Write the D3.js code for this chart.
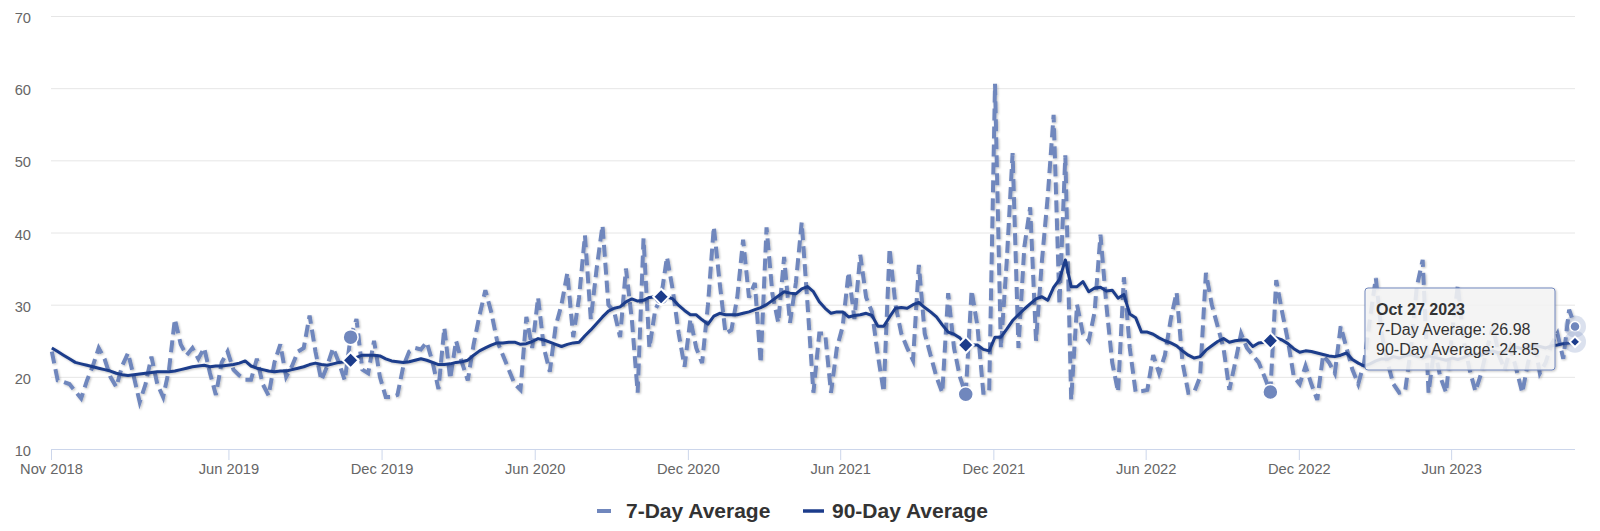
<!DOCTYPE html>
<html>
<head>
<meta charset="utf-8">
<script src="https://cdn.jsdelivr.net/npm/d3@7/dist/d3.min.js"></script>
<style>
  body { margin: 0; background: #fff; }
  svg { display: block; font-family: "Liberation Sans", Arial, Helvetica, sans-serif; }
</style>
</head>
<body>
<div class="chart"></div>
<script>
// weekly points, first one on this date
const startDate = "2018-11-02";

const sevenDay = [
  23.5, 19.5, 19.3, 19, 18, 17, 19.5, 21.5, 24, 22.5,
  20, 18.6, 21.5, 23.3, 20, 16.5, 19, 22.8, 19, 17.2,
  21, 28, 24.5, 23, 24, 22.5, 24, 20.5, 17.5, 22,
  23.5, 21, 20.2, 19.6, 19.6, 22.5, 19, 17.4, 22, 24.5,
  20, 21.5, 23.5, 24, 28.5, 23.5, 19.5, 21.5, 24, 22,
  19.5, 25.5, 28, 21, 20.5, 25, 20, 17.2, 17.2, 17.5,
  21.5, 23.5, 24, 23.8, 24.8, 22, 18.3, 26.8, 19.7, 25,
  22, 19.5, 24.5, 28.5, 32, 29, 25, 23, 21, 19,
  18.2, 28.3, 24, 31, 24, 20.7, 27, 30, 34.4, 25.5,
  31, 39.6, 28, 35, 41, 30, 29, 25.5, 35, 28,
  17.8, 39.2, 24, 29.3, 31, 36.6, 32, 26, 21.4, 28,
  24, 21.9, 30, 40.8, 33, 26, 26.5, 31, 39, 31,
  33, 21.9, 40.7, 31.5, 27.5, 36.6, 27.5, 33, 41.4, 30,
  17.8, 26, 26, 17.8, 24, 27, 34.5, 28, 36.9, 31,
  29, 23, 17.9, 37.8, 30, 26, 24, 22.3, 35.5, 26,
  23, 20, 17.8, 31.6, 24, 20, 17.6, 32, 27, 17.8,
  17.8, 60.6, 24, 36, 51, 24, 38, 43.5, 25, 36,
  45, 56.3, 30, 50.7, 16.8, 30, 26, 25, 29, 39.7,
  30, 22, 17.9, 33.8, 24, 17.9, 18, 18.2, 23, 20.5,
  23, 28, 31.7, 22, 17.8, 17.9, 20, 34.4, 30, 27,
  24, 18.2, 22, 26, 24, 23, 22, 20, 17.9, 33.4,
  29, 25, 20, 19, 21.5, 19, 16.8, 23, 22, 20.5,
  27, 24, 21, 19, 22, 28, 33.7, 26, 22, 19,
  17.8, 18, 24, 32.5, 36.2, 17.8, 24, 20, 17.8, 26,
  32.7, 25, 21, 18, 20.5, 24, 27, 23, 21, 24,
  21, 17.8, 22, 25, 20.5, 22, 24.5, 26, 22.5, 29.3,
  26.98
];

const ninetyDay = [
  24, 23.5, 23.0, 22.5, 22.0, 21.8, 21.6, 21.4, 21.2, 21.0,
  20.8, 20.5, 20.3, 20.2, 20.3, 20.4, 20.5, 20.6, 20.7, 20.7,
  20.7, 20.8, 21.0, 21.2, 21.4, 21.5, 21.6, 21.4, 21.5, 21.5,
  21.6, 21.7, 21.9, 22.2, 21.5, 21.2, 21.0, 20.8, 20.7, 20.8,
  20.8, 21.0, 21.2, 21.4, 21.7, 21.9, 21.7, 21.6, 21.8, 22.0,
  22.1, 22.3, 22.7, 23.0, 23.0, 23.0, 22.9, 22.5, 22.2, 22.1,
  22.0, 22.1, 22.3, 22.5, 22.3, 22.0, 21.7, 21.7, 21.8, 22.0,
  22.1, 22.3, 23.0, 23.6, 24.0, 24.4, 24.7, 24.7, 24.8, 24.8,
  24.5, 24.6, 24.9, 25.3, 25.1, 24.8, 24.5, 24.2, 24.5, 24.7,
  24.8, 25.7, 26.5, 27.4, 28.3, 29.1, 29.5, 29.7, 30.4, 30.8,
  30.5, 30.6, 31.0, 31.1, 31.1, 31.1, 30.8, 29.9, 29.2, 28.6,
  28.6, 27.9, 27.3, 28.4, 28.8, 28.6, 28.6, 28.6, 28.8, 29.0,
  29.3, 29.6, 30.0, 30.6, 31.2, 31.8, 31.6, 31.5, 32.2, 32.5,
  31.8, 30.4, 29.5, 28.8, 29.0, 29.0, 28.3, 28.5, 28.6, 28.8,
  28.5, 27.0, 27.0, 28.3, 29.5, 29.6, 29.5, 30.0, 30.3, 29.6,
  29.0, 28.3, 27.2, 26.2, 25.9, 25.4, 24.4, 24.4, 24.4, 23.8,
  23.6, 25.5, 25.5, 26.6, 27.8, 28.6, 29.4, 30.1, 30.8, 31.1,
  30.6, 32.4, 33.5, 36.2, 32.5, 32.5, 33.2, 31.8, 32.3, 32.4,
  31.9, 32.0, 30.9, 31.4, 28.7, 28.2, 26.2, 26.2, 25.9, 25.4,
  25.0, 24.7, 24.3, 23.6, 23.0, 22.6, 22.8, 23.7, 24.3, 24.9,
  25.3, 24.8, 25.0, 25.1, 25.1, 24.2, 24.7, 24.8, 25.0, 25.4,
  25.1, 24.6, 23.9, 23.4, 23.6, 23.5, 23.3, 23.1, 22.9, 22.8,
  23.0, 23.3, 22.4, 21.9, 21.5, 21.8, 22.2, 22.5, 22.4, 22.8,
  22.6, 22.9, 23.1, 22.8, 22.6, 22.9, 22.7, 22.5, 22.3, 22.6,
  22.4, 22.7, 23.0, 23.2, 23.0, 23.4, 23.6, 23.3, 23.6, 23.9,
  24.1, 23.9, 24.2, 24.4, 24.2, 24.0, 24.3, 24.4, 24.6, 24.7,
  24.85
];

// same day in earlier years, highlighted on both series
const markerDates = ["2019-10-27", "2020-10-27", "2021-10-27", "2022-10-27"];

const yTicks = [10, 20, 30, 40, 50, 60, 70];
const xTickDates = ["2018-11-01", "2019-06-01", "2019-12-01", "2020-06-01", "2020-12-01",
  "2021-06-01", "2021-12-01", "2022-06-01", "2022-12-01", "2023-06-01"];
const domainDates = ["2018-11-01", "2023-10-27"];

const seriesNames = ["7-Day Average", "90-Day Average"];
const colors = ["#7087bd", "#1c3c8b"];

const svgWidth = 1600, svgHeight = 531;
const plotLeft = 51, plotRight = 1575, plotTop = 16, plotBottom = 449;

const parse = d3.timeParse("%Y-%m-%d");
const start = parse(startDate);
const data = sevenDay.map((v, i) => ({
  date: d3.timeDay.offset(start, 7 * i),
  v7: v,
  v90: ninetyDay[i]
}));

const xScale = d3.scaleTime()
  .domain(domainDates.map(parse))
  .range([plotLeft, plotRight]);
const yScale = d3.scaleLinear()
  .domain([10, 70])
  .range([plotBottom, plotTop]);

const svg = d3.select(".chart").append("svg")
  .attr("width", svgWidth)
  .attr("height", svgHeight);

const defs = svg.append("defs");
const sh = defs.append("filter").attr("id", "shadow")
  .attr("x", "-5%").attr("y", "-5%").attr("width", "110%").attr("height", "110%");
sh.append("feDropShadow").attr("dx", 1).attr("dy", 1).attr("stdDeviation", 1)
  .attr("flood-color", "#000").attr("flood-opacity", 0.25);

// grid
const yAxis = d3.axisLeft(yScale).tickValues(yTicks).tickSize(-(plotRight - plotLeft)).tickFormat(d3.format("d"));
const gy = svg.append("g").attr("transform", "translate(" + plotLeft + ",0)").call(yAxis);
gy.select(".domain").remove();
gy.selectAll(".tick line").attr("stroke", "#e6e6e6");
gy.selectAll(".tick text")
  .attr("x", -20).attr("dy", "0.45em")
  .attr("fill", "#666").style("font-size", "14.7px");

// x axis
const xAxis = d3.axisBottom(xScale)
  .tickValues(xTickDates.map(parse))
  .tickSize(11).tickPadding(4)
  .tickFormat(d3.timeFormat("%b %Y"));
const gx = svg.append("g").attr("transform", "translate(0," + plotBottom + ")").call(xAxis);
gx.select(".domain").attr("stroke", "#ccd6eb").attr("d", "M" + plotLeft + ",0.5H" + plotRight);
gx.selectAll(".tick line").attr("stroke", "#ccd6eb");
gx.selectAll(".tick text").attr("fill", "#666").style("font-size", "14.7px");

// lines
const line7 = d3.line().x(d => xScale(d.date)).y(d => yScale(d.v7));
const line90 = d3.line().x(d => xScale(d.date)).y(d => yScale(d.v90));

const bis = d3.bisector(d => d.date).center;
const marked = markerDates.map(s => data[bis(data, parse(s))]);
const last = data[data.length - 1];

const g7 = svg.append("g");
g7.append("path").datum(data)
  .attr("d", line7)
  .attr("fill", "none")
  .attr("stroke", colors[0])
  .attr("stroke-width", 4)
  .attr("stroke-dasharray", "12,6")
  .attr("filter", "url(#shadow)");
g7.selectAll("circle.mk").data(marked).enter().append("circle")
  .attr("class", "mk")
  .attr("cx", d => xScale(d.date))
  .attr("cy", d => yScale(d.v7))
  .attr("r", 7.5)
  .attr("fill", colors[0])
  .attr("stroke", "#fff").attr("stroke-width", 1.5);
g7.append("circle")
  .attr("cx", xScale(last.date)).attr("cy", yScale(last.v7))
  .attr("r", 11).attr("fill", colors[0]).attr("opacity", 0.25);
g7.append("circle")
  .attr("cx", xScale(last.date)).attr("cy", yScale(last.v7))
  .attr("r", 5).attr("fill", colors[0])
  .attr("stroke", "#fff").attr("stroke-width", 1.5);

const diamond = d3.symbol().type(d3.symbolDiamond2);
const g90 = svg.append("g");
g90.append("path").datum(data)
  .attr("d", line90)
  .attr("fill", "none")
  .attr("stroke", colors[1])
  .attr("stroke-width", 3)
  .attr("stroke-linejoin", "round")
  .attr("filter", "url(#shadow)");
g90.selectAll("path.mk").data(marked).enter().append("path")
  .attr("class", "mk")
  .attr("transform", d => "translate(" + xScale(d.date) + "," + yScale(d.v90) + ")")
  .attr("d", diamond.size(160)())
  .attr("fill", colors[1])
  .attr("stroke", "#fff").attr("stroke-width", 2);
g90.append("circle")
  .attr("cx", xScale(last.date)).attr("cy", yScale(last.v90))
  .attr("r", 11).attr("fill", colors[0]).attr("opacity", 0.25);
g90.append("path")
  .attr("transform", "translate(" + xScale(last.date) + "," + yScale(last.v90) + ")")
  .attr("d", diamond.size(70)())
  .attr("fill", colors[1])
  .attr("stroke", "#fff").attr("stroke-width", 2);

// legend
const legend = svg.append("g").attr("transform", "translate(0,511)");
legend.append("line").attr("x1", 597).attr("x2", 618).attr("y1", 0).attr("y2", 0)
  .attr("stroke", colors[0]).attr("stroke-width", 4).attr("stroke-dasharray", "14,8");
legend.append("text").attr("x", 626).attr("y", 7)
  .attr("fill", "#333").style("font-size", "21px").style("font-weight", "bold")
  .text(seriesNames[0]);
legend.append("line").attr("x1", 803).attr("x2", 824).attr("y1", 0).attr("y2", 0)
  .attr("stroke", colors[1]).attr("stroke-width", 3.5);
legend.append("text").attr("x", 832).attr("y", 7)
  .attr("fill", "#333").style("font-size", "21px").style("font-weight", "bold")
  .text(seriesNames[1]);

// tooltip for the last point
const tipRight = xScale(last.date) - 20;
const tip = svg.append("g").attr("transform", "translate(" + (tipRight - 190) + ",288)");
tip.append("rect")
  .attr("width", 190).attr("height", 82).attr("rx", 3)
  .attr("fill", "rgba(247,247,247,0.85)")
  .attr("stroke", colors[0]).attr("stroke-width", 1)
  .attr("filter", "url(#shadow)");
const fmt = d3.format(".2f");
tip.append("text").attr("x", 11).attr("y", 27)
  .attr("fill", "#333").style("font-size", "16px").style("font-weight", "bold")
  .text(d3.timeFormat("%b %d %Y")(last.date));
tip.append("text").attr("x", 11).attr("y", 47)
  .attr("fill", "#333").style("font-size", "16px")
  .text(seriesNames[0] + ": " + fmt(last.v7));
tip.append("text").attr("x", 11).attr("y", 67)
  .attr("fill", "#333").style("font-size", "16px")
  .text(seriesNames[1] + ": " + fmt(last.v90));
</script>
</body>
</html>
